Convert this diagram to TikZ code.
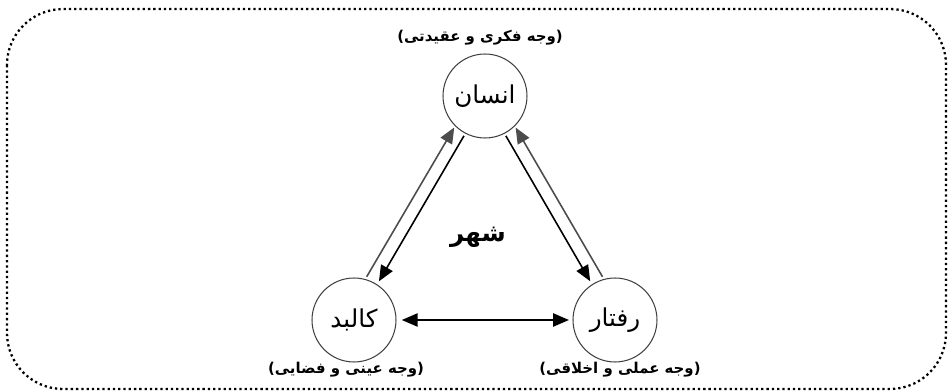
\documentclass[tikz,border=0pt]{standalone}
\usepackage{fontspec}
\newfontfamily\arabicfont[Script=Arabic]{DejaVu Sans}
\TeXXeTstate=1
\usetikzlibrary{arrows.meta,calc}

\begin{document}
\begin{tikzpicture}[x=0.02cm, y=-0.02cm]
    % Define styles
    \tikzstyle{part} = [draw=black!75, line width=0.6pt, circle, minimum size=1.68cm, inner sep=0pt, font=\arabicfont\fontsize{14}{17}\selectfont]
    \tikzstyle{aspect} = [font=\arabicfont\bfseries\fontsize{8.5}{10}\selectfont]
    \tikzstyle{arrow} = [-{Triangle[length=9pt, width=7.5pt]}, line width=0.9pt]
    \tikzstyle{frame} = [line width=1.3pt, dash pattern=on 1.3pt off 1.7pt, rounded corners=1.12cm]

    \useasboundingbox (0,0) rectangle (948,391);

    % Dotted frame
    \draw[frame] (7,9) rectangle (946,389);

    % Three parts of the city
    \node[part] (ensan) at (485,96) {\beginR انسان\endR};
    \node[part] (kalbod) at (354,320) {\beginR کالبد\endR};
    \node[part] (raftar) at (615,320) {\beginR رفتار\endR};

    % Aspects
    \node[aspect] (ensanlbl) at (480,38) {\beginR(وجه فکری و عقیدتی)\endR};
    \node[aspect] (kalbodlbl) at (346,370) {\beginR(وجه عینی و فضایی)\endR};
    \node[aspect] (raftarlbl) at (620,370) {\beginR(وجه عملی و اخلاقی)\endR};

    % City in the middle
    \node[font=\arabicfont\bfseries\fontsize{14}{17}\selectfont] (shahr) at (478,237) {\beginR شهر\endR};

    % Left side
    \draw[arrow, black!70] ($(kalbod)!0.9cm!14:(ensan)$) -- ($(ensan)!0.88cm!-14:(kalbod)$);
    \draw[arrow] ($(ensan)!0.9cm!2.5:(kalbod)$) -- ($(kalbod)!0.92cm!-2.5:(ensan)$);

    % Right side
    \draw[arrow, black!70] ($(raftar)!0.9cm!-14:(ensan)$) -- ($(ensan)!0.88cm!14:(raftar)$);
    \draw[arrow] ($(ensan)!0.9cm!-2.5:(raftar)$) -- ($(raftar)!0.92cm!2.5:(ensan)$);

    % Bottom
    \draw[arrow, {Triangle[length=9pt, width=7.5pt]}-{Triangle[length=9pt, width=7.5pt]}, shorten <=3pt, shorten >=2pt] (kalbod) -- (raftar);

\end{tikzpicture}
\end{document}
